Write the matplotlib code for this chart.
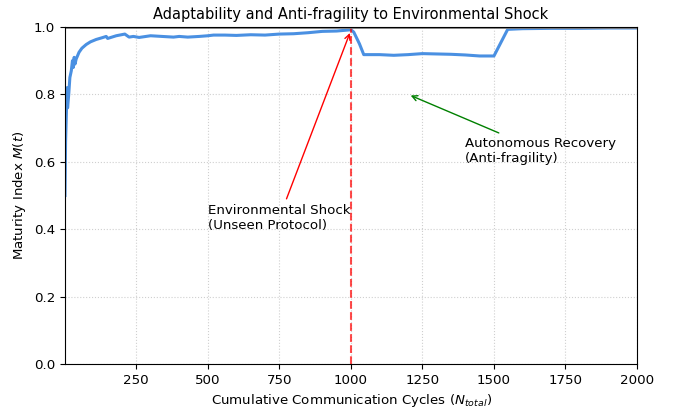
import matplotlib
matplotlib.use("Agg")
import matplotlib.pyplot as plt

# maturity index readings over cumulative cycles
cycles = [1, 3, 6, 8, 10, 14, 18, 23, 27, 30, 33, 36, 40, 50, 60, 75, 90, 110,
          130, 145, 150, 180, 210, 225, 240, 260, 300, 340, 380, 400, 430, 470,
          500, 520, 560, 600, 650, 700, 750, 800, 850, 900, 950, 990, 1000,
          1010, 1030, 1045, 1100, 1150, 1200, 1250, 1300, 1350, 1400, 1450,
          1500, 1548, 1600, 1700, 1800, 1900, 2000]
maturity = [0.50, 0.66, 0.75, 0.82, 0.76, 0.80, 0.85, 0.87, 0.90, 0.88, 0.91,
            0.89, 0.905, 0.925, 0.937, 0.948, 0.956, 0.963, 0.968, 0.972,
            0.966, 0.974, 0.979, 0.970, 0.972, 0.969, 0.974, 0.972, 0.970,
            0.972, 0.970, 0.972, 0.974, 0.976, 0.976, 0.975, 0.977, 0.976,
            0.979, 0.980, 0.983, 0.987, 0.988, 0.991, 0.992, 0.985, 0.950,
            0.918, 0.918, 0.916, 0.918, 0.921, 0.920, 0.919, 0.917, 0.914,
            0.914, 0.993, 0.995, 0.996, 0.996, 0.997, 0.997]

SHOCK_AT = 1000

plt.rcParams["font.size"] = 9.6

fig = plt.figure(figsize=(6.8, 4.09), dpi=100)
ax = fig.add_axes([0.0956, 0.110, 0.8412, 0.824])

ax.plot(cycles, maturity, color="#4a90e2", linewidth=2.2)
ax.axvline(SHOCK_AT, color="red", linestyle="--", alpha=0.7, linewidth=1.5)
ax.axhline(1.0, color="gray", linewidth=2)

ax.annotate("Environmental Shock\n(Unseen Protocol)", xy=(1000, 0.99),
            xytext=(500, 0.40),
            arrowprops=dict(arrowstyle="->", color="red"))
ax.annotate("Autonomous Recovery\n(Anti-fragility)", xy=(1200, 0.80),
            xytext=(1400, 0.60),
            arrowprops=dict(arrowstyle="->", color="green"))

ax.set_xlim(1, 2000)
ax.set_ylim(0, 1.0)
ax.grid(True, linestyle=":", alpha=0.6)
ax.set_title("Adaptability and Anti-fragility to Environmental Shock", fontsize=10.5)
ax.set_xlabel("Cumulative Communication Cycles ($N_{total}$)")
ax.set_ylabel("Maturity Index $M(t)$")

fig.savefig("out.png", dpi=100)
